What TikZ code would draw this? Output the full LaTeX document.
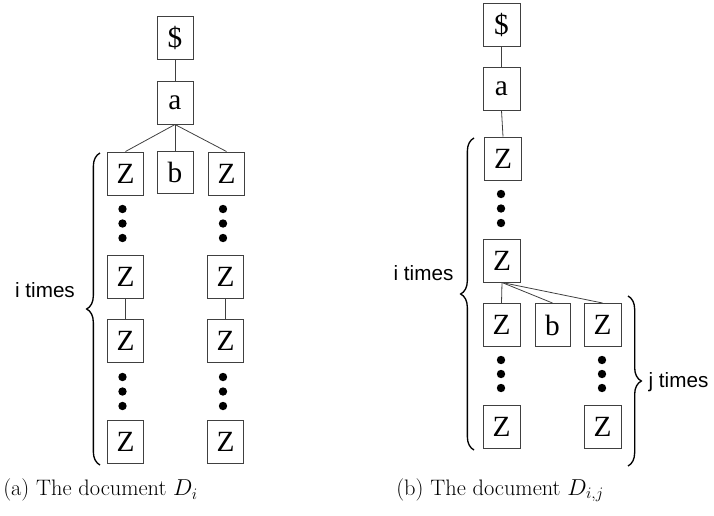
\documentclass[tikz,border=0pt]{standalone}
\usepackage{fontspec}
\newfontfamily\boxfont{Liberation Serif}
\newfontfamily\lblfont{Liberation Sans}
\usetikzlibrary{decorations.pathreplacing}
\begin{document}
\begin{tikzpicture}[x=0.75pt,y=-0.75pt,
  bx/.style={draw=black!75,line width=0.75pt,minimum width=27pt,minimum height=32.25pt,inner sep=0pt,font=\boxfont\fontsize{22}{24}\selectfont},
  edge/.style={draw=black!75,line width=0.6pt},
  dot/.style={fill=black},
  brc/.style={decorate,decoration={brace,amplitude=10pt},line width=1pt},
  lbl/.style={font=\lblfont\fontsize{15.5}{18}\selectfont,inner sep=0pt},
  captxt/.style={font=\fontsize{16.8}{19}\selectfont,inner sep=0pt,anchor=west}]
\useasboundingbox (0,0) rectangle (714,515);
% ---------- (a) ----------
\node[bx] (aD) at (175,37.5) {\$};
\node[bx] (aA) at (175,102.5) {a};
\node[bx] (aZ1L) at (125.5,173.5) {Z};
\node[bx,minimum height=31.5pt] (aB) at (175,172) {b};
\node[bx] (aZ1R) at (226.5,173.5) {Z};
\node[bx] (aZ2L) at (125.5,276.5) {Z};
\node[bx] (aZ3L) at (125.5,341) {Z};
\node[bx] (aZ4L) at (125.5,441.5) {Z};
\node[bx] (aZ2R) at (225.5,276.5) {Z};
\node[bx] (aZ3R) at (225.5,341) {Z};
\node[bx] (aZ4R) at (225.5,441.5) {Z};
\draw[edge] (aD) -- (aA);
\draw[edge] (aA.south) -- (aZ1L.north);
\draw[edge] (aA.south) -- (aB.north);
\draw[edge] (aA.south) -- (aZ1R.north);
\draw[edge] (aZ2L) -- (aZ3L);
\draw[edge] (aZ2R) -- (aZ3R);
\foreach \yy in {209,223.5,238,377,391.5,406}{
  \fill[dot] (122.5,\yy) circle (4.2);
  \fill[dot] (223,\yy) circle (4.2);
}
\coordinate (aBt) at (100,153);
\coordinate (aBb) at (100,465);
\draw[brc] (aBb) -- (aBt);
\node[lbl] (aLbl) at (45,290) {i times};
\node[captxt] (aCap) at (3,490) {(a) The document $D_i$};
% ---------- (b) ----------
\node[bx,minimum width=27.75pt] (bD) at (501.5,24.5) {\$};
\node[bx,minimum width=27.75pt] (bA) at (501.5,88.5) {a};
\node[bx,minimum width=27.75pt] (bZ1) at (503,158.5) {Z};
\node[bx,minimum width=27.75pt] (bZ2) at (502,260.5) {Z};
\node[bx,minimum width=27.75pt] (bR1) at (501.5,325) {Z};
\node[bx,minimum width=26.25pt] (bB) at (552.5,325) {b};
\node[bx,minimum width=27.75pt] (bR2) at (602.5,325) {Z};
\node[bx,minimum width=27.75pt] (bL1) at (501.5,426.5) {Z};
\node[bx,minimum width=27.75pt] (bL2) at (602.5,426.5) {Z};
\draw[edge] (bD) -- (bA);
\draw[edge] (bA.south) -- (bZ1.north);
\draw[edge] (bZ2.south) -- (bR1.north);
\draw[edge] (bZ2.south) -- (bB.north);
\draw[edge] (bZ2.south) -- (bR2.north);
\foreach \yy in {194,208.5,223}{
  \fill[dot] (501,\yy) circle (4.2);
}
\foreach \yy in {360,374,388}{
  \fill[dot] (501,\yy) circle (4.2);
  \fill[dot] (602,\yy) circle (4.2);
}
\coordinate (bIt) at (474,138);
\coordinate (bIb) at (474,450);
\draw[brc] (bIb) -- (bIt);
\node[lbl] (bLbl) at (423.5,273) {i times};
\coordinate (bJt) at (628,296);
\coordinate (bJb) at (628,466);
\draw[brc] (bJt) -- (bJb);
\node[lbl] (bJLbl) at (678.5,382) {j times};
\node[captxt] (bCap) at (396,490) {(b) The document $D_{i,j}$};
\end{tikzpicture}
\end{document}
